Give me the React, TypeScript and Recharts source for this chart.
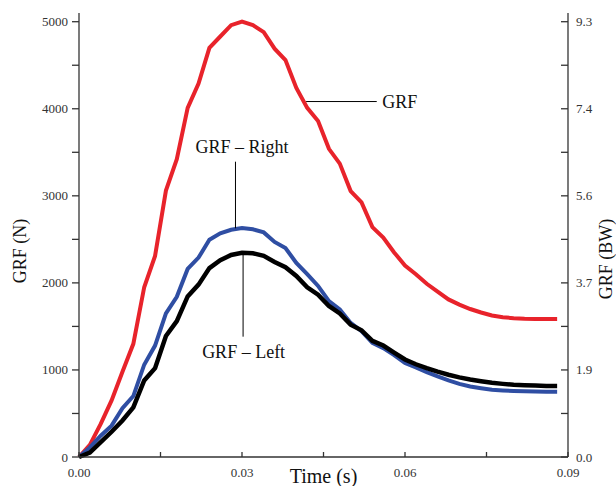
import React from 'react';
import { LineChart, Line, XAxis, YAxis, ReferenceLine, ReferenceDot } from 'recharts';

const TIME = [0, 0.002, 0.004, 0.006, 0.008, 0.01, 0.012, 0.014, 0.016, 0.018, 0.02, 0.022, 0.024, 0.026, 0.028, 0.03, 0.032, 0.034, 0.036, 0.038, 0.04, 0.042, 0.044, 0.046, 0.048, 0.05, 0.052, 0.054, 0.056, 0.058, 0.06, 0.062, 0.064, 0.066, 0.068, 0.07, 0.072, 0.074, 0.076, 0.078, 0.08, 0.082, 0.084, 0.086, 0.088];

const GRF_TOTAL = [0, 140, 380, 650, 980, 1300, 1950, 2310, 3060, 3420, 4010, 4290, 4700, 4830, 4960, 5000, 4960, 4880, 4690, 4560, 4240, 4010, 3860, 3540, 3370, 3055, 2925, 2640, 2520, 2350, 2200, 2100, 1990, 1900, 1810, 1750, 1700, 1660, 1625, 1605, 1595, 1588, 1585, 1585, 1585];

const GRF_RIGHT = [0, 110, 245, 360, 560, 700, 1060, 1280, 1650, 1840, 2160, 2290, 2495, 2570, 2610, 2630, 2615, 2580, 2470, 2400, 2230, 2100, 1965, 1790, 1695, 1540, 1445, 1310, 1250, 1170, 1080, 1030, 975, 925, 880, 840, 810, 790, 772, 765, 759, 755, 752, 750, 750];

const GRF_LEFT = [0, 50, 170, 290, 420, 570, 880, 1020, 1390, 1560, 1845, 1980, 2170, 2260, 2320, 2345, 2340, 2310, 2240, 2180, 2080, 1950, 1865, 1735, 1650, 1520, 1455, 1335, 1280, 1200, 1120, 1065, 1020, 980, 945, 915, 890, 870, 852, 840, 830, 825, 820, 815, 815];

const X_TICKS = [0, 0.015, 0.03, 0.045, 0.06, 0.075, 0.09];
const X_TICK_LABELS = ['0.00', '', '0.03', '', '0.06', '', '0.09'];
const Y_TICKS = [0, 500, 1000, 1500, 2000, 2500, 3000, 3500, 4000, 4500, 5000];
const Y_TICK_LABELS = ['0', '', '1000', '', '2000', '', '3000', '', '4000', '', '5000'];
const BW_TICK_LABELS = ['0.0', '', '1.9', '', '3.7', '', '5.6', '', '7.4', '', '9.3'];

const data = TIME.map((t, i) => ({ t, total: GRF_TOTAL[i], right: GRF_RIGHT[i], left: GRF_LEFT[i] }));

const SERIF = 'Liberation Serif';
const AXIS_COLOR = '#333';
const txt = { fontFamily: SERIF };
const RIGHT_MARGIN = 8;
const RIGHT_TICK = 7;

const XTick = (p: any) => {
  const label = X_TICK_LABELS[X_TICKS.indexOf(p.payload.value)] ?? '';
  return (
    <text x={p.x} y={p.y} dy={10} textAnchor="middle" fontSize={13} fill="#333" style={txt}>
      {label}
    </text>
  );
};
const LeftTick = (p: any) => {
  const label = Y_TICK_LABELS[Y_TICKS.indexOf(p.payload.value)] ?? '';
  return (
    <text x={p.x} y={p.y} dy={4.5} textAnchor="end" fontSize={13} fill="#333" style={txt}>
      {label}
    </text>
  );
};
const RightTick = (p: any) => {
  const label = BW_TICK_LABELS[Y_TICKS.indexOf(p.payload.value)] ?? '';
  const axisX = p.x - RIGHT_MARGIN;
  return (
    <g>
      <line x1={axisX - RIGHT_TICK} x2={axisX} y1={p.y} y2={p.y} stroke={AXIS_COLOR} strokeWidth={1.3} />
      <text x={p.x} y={p.y} dy={4.5} textAnchor="start" fontSize={13} fill="#333" style={txt}>
        {label}
      </text>
    </g>
  );
};

const annoText = (text: string, anchor: string) => (props: any) => {
  const vb = props.viewBox || {};
  return (
    <text x={vb.x} y={vb.y} textAnchor={anchor} fontSize={18} fill="#111" style={txt}>
      {text}
    </text>
  );
};

export default function App() {
  return (
    <div style={{ position: 'absolute', left: 0, top: 0, background: '#fff' }}>
      <LineChart width={616} height={486} data={data} margin={{ top: 13, right: 0, bottom: 0, left: 0 }}>
        <XAxis
          dataKey="t"
          type="number"
          domain={[0, 0.09]}
          ticks={X_TICKS}
          interval={0}
          tickSize={-5}
          tickMargin={15}
          height={29}
          axisLine={{ stroke: AXIS_COLOR, strokeWidth: 1.3 }}
          tickLine={{ stroke: AXIS_COLOR, strokeWidth: 1.3 }}
          tick={XTick}
          label={{
            content: (p: any) => {
              const vb = p.viewBox || {};
              return (
                <text x={vb.x + vb.width / 2} y={vb.y + 25.5} textAnchor="middle" fontSize={20} fill="#111" style={txt}>
                  Time (s)
                </text>
              );
            },
          }}
        />
        <YAxis
          yAxisId="left"
          orientation="left"
          type="number"
          domain={[0, 5100]}
          ticks={Y_TICKS}
          interval={0}
          tickSize={7}
          tickMargin={4}
          width={79}
          axisLine={{ stroke: AXIS_COLOR, strokeWidth: 1.3 }}
          tickLine={{ stroke: AXIS_COLOR, strokeWidth: 1.3 }}
          tick={LeftTick}
          label={{
            content: (p: any) => {
              const vb = p.viewBox || {};
              const x = vb.x + 26;
              const y = vb.y + vb.height / 2 + 16;
              return (
                <text x={x} y={y} transform={`rotate(-90, ${x}, ${y})`} textAnchor="middle" fontSize={18} fill="#111" style={txt}>
                  GRF (N)
                </text>
              );
            },
          }}
        />
        <YAxis
          yAxisId="right"
          orientation="right"
          type="number"
          domain={[0, 5100]}
          ticks={Y_TICKS}
          interval={0}
          tickSize={0}
          tickMargin={RIGHT_MARGIN}
          width={48}
          axisLine={{ stroke: AXIS_COLOR, strokeWidth: 1.3 }}
          tickLine={false}
          tick={RightTick}
          label={{
            content: (p: any) => {
              const vb = p.viewBox || {};
              const x = vb.x + 44;
              const y = vb.y + vb.height / 2 + 24;
              return (
                <text x={x} y={y} transform={`rotate(-90, ${x}, ${y})`} textAnchor="middle" fontSize={18} fill="#111" style={txt}>
                  GRF (BW)
                </text>
              );
            },
          }}
        />
        <Line yAxisId="left" type="linear" dataKey="total" stroke="#E8232B" strokeWidth={4} dot={false} isAnimationActive={false} />
        <Line yAxisId="left" type="linear" dataKey="right" stroke="#2F4EA3" strokeWidth={4} dot={false} isAnimationActive={false} />
        <Line yAxisId="right" type="linear" dataKey="left" stroke="#000000" strokeWidth={4.5} dot={false} isAnimationActive={false} />

        <ReferenceLine yAxisId="left" segment={[{ x: 0.0418, y: 4083 }, { x: 0.0548, y: 4083 }]} stroke="#000" strokeWidth={1} />
        <ReferenceLine yAxisId="left" segment={[{ x: 0.0288, y: 3392 }, { x: 0.0288, y: 2627 }]} stroke="#000" strokeWidth={1} />
        <ReferenceLine yAxisId="left" segment={[{ x: 0.0302, y: 2340 }, { x: 0.0302, y: 1382 }]} stroke="#000" strokeWidth={1} />

        <ReferenceDot yAxisId="left" x={0.0558} y={4010} r={0} fill="none" stroke="none" label={{ content: annoText('GRF', 'start') }} />
        <ReferenceDot yAxisId="left" x={0.0300} y={3495} r={0} fill="none" stroke="none" label={{ content: annoText('GRF – Right', 'middle') }} />
        <ReferenceDot yAxisId="left" x={0.0303} y={1140} r={0} fill="none" stroke="none" label={{ content: annoText('GRF – Left', 'middle') }} />
      </LineChart>
    </div>
  );
}
